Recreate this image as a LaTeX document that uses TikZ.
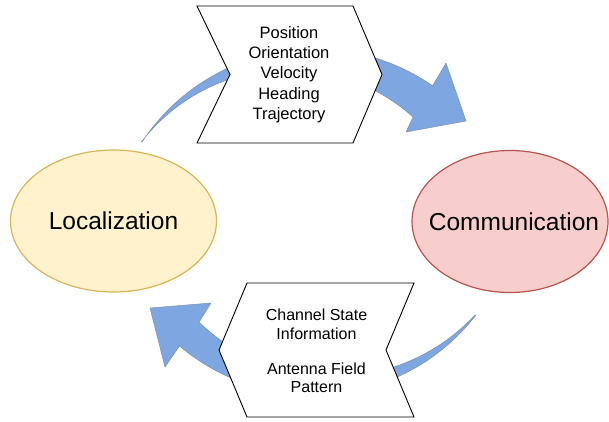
\documentclass[tikz,border=0pt]{standalone}
\usepackage{fontspec}
\setmainfont{Liberation Sans}
\usetikzlibrary{shapes.geometric}
\definecolor{arrowfill}{HTML}{7EA6E0}
\definecolor{arrowline}{HTML}{7F93AD}
\definecolor{locfill}{HTML}{FFF2CC}
\definecolor{locline}{HTML}{D6B656}
\definecolor{comfill}{HTML}{F8CECC}
\definecolor{comline}{HTML}{B85450}
\begin{document}
\begin{tikzpicture}[x=1pt,y=-1pt,
  bigarrow/.style={fill=arrowfill, draw=arrowline, line width=0.5pt, line join=round},
  chevron/.style={fill=white, draw=black, line width=0.9pt, line join=miter},
  bubble/.style={ellipse, inner ysep=0pt, inner xsep=-30pt, line width=1.2pt, font=\fontsize{24.5}{29}\selectfont},
  toptext/.style={align=center, inner sep=0pt, font=\fontsize{16.5}{20.3}\selectfont},
  bottext/.style={align=center, inner sep=0pt, font=\fontsize{16}{18.3}\selectfont}]
\useasboundingbox (0,0) rectangle (609,421);
% curved arrows
\path[bigarrow] (142,142) arc[start angle=-146.6, end angle=-55.3, radius=207]
  -- (446,63) -- (466,121) -- (406,132) -- (413,117)
  arc[start angle=-48.1, end angle=-142.4, radius=186] -- cycle;
\path[bigarrow] (476,315) arc[start angle=37.7, end angle=130.4, radius=206]
  -- (165,367) -- (150,308) -- (211,303) -- (199,322)
  arc[start angle=134.2, end angle=42.9, radius=193] -- cycle;
% chevrons
\draw[chevron] (197,6) -- (353,6) -- (382,74.5) -- (353,143) -- (197,143) -- (230,74.5) -- cycle;
\node[toptext] (info) at (289,74.5) {Position\\Orientation\\Velocity\\Heading\\Trajectory};
\draw[chevron] (247,283) -- (414,283) -- (386,350) -- (414,417) -- (247,417) -- (219,350) -- cycle;
\node[bottext] (csi) at (316.5,351) {Channel State\\Information\\[16.7pt]Antenna Field\\Pattern};
% ellipses
\node[bubble, minimum width=206pt, minimum height=142pt, fill=locfill, draw=locline] (loc) at (113.5,221) {Localization};
\node[bubble, minimum width=196pt, minimum height=142pt, fill=comfill, draw=comline] (com) at (510,221.5) {\hspace*{8pt}Communication};
\end{tikzpicture}
\end{document}
